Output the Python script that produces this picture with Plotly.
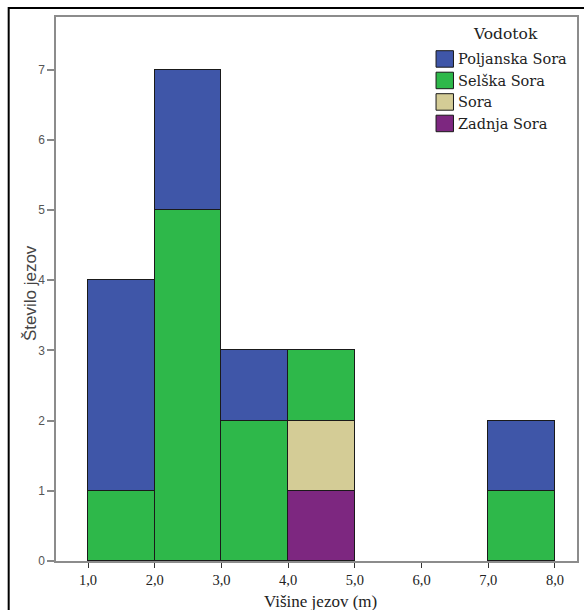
import plotly.graph_objects as go

# Histogram of weir heights, stacked by watercourse (bins of 1 m)
bin_starts = [1, 2, 3, 4, 7]
bin_width = 1

series_names = ["Zadnja Sora", "Sora", "Selška Sora", "Poljanska Sora"]
series_colors = ["#7D2780", "#D4CC96", "#2EB84A", "#3F56A8"]
zadnja_sora = [0, 0, 0, 1, 0]
sora = [0, 0, 0, 1, 0]
selska_sora = [1, 5, 2, 1, 1]
poljanska_sora = [3, 2, 1, 0, 1]
series_values = [zadnja_sora, sora, selska_sora, poljanska_sora]

x_tick_vals = [1, 2, 3, 4, 5, 6, 7, 8]
x_tick_text = ["1,0", "2,0", "3,0", "4,0", "5,0", "6,0", "7,0", "8,0"]
y_tick_vals = [0, 1, 2, 3, 4, 5, 6, 7]

legend_title = "Vodotok"
x_title = "Višine jezov (m)"
y_title = "Število jezov"

W, H = 584, 610
ML, MR, MT, MB = 56, 5, 17, 49
PW, PH = W - ML - MR, H - MT - MB


def px(x):
    return (x - ML) / PW


def py(y):
    return (H - MB - y) / PH


SERIF = "DejaVu Serif, Liberation Serif, serif"
TIMES = "Liberation Serif, Times New Roman, serif"
SANS = "Liberation Sans, Arial, sans-serif"

fig = go.Figure()
centers = [b + bin_width / 2 for b in bin_starts]
for name, color, vals in zip(series_names, series_colors, series_values):
    fig.add_trace(go.Bar(
        x=centers, y=vals, width=bin_width, name=name,
        marker=dict(color=color, line=dict(color="#1a1a1a", width=1)),
        showlegend=False,
    ))

fig.update_layout(
    width=W, height=H,
    margin=dict(l=ML, r=MR, t=MT, b=MB),
    barmode="stack", bargap=0,
    plot_bgcolor="white", paper_bgcolor="white",
    xaxis=dict(
        range=[0.52, 8.33], tickvals=x_tick_vals, ticktext=x_tick_text,
        ticks="outside", ticklen=5, tickcolor="#333", tickwidth=1,
        tickfont=dict(family=TIMES, size=14.5, color="#222"),
        showline=True, linecolor="#8c8c8c", linewidth=1.5, mirror=True,
        showgrid=False, zeroline=False,
    ),
    yaxis=dict(
        range=[0, 7.75], tickvals=y_tick_vals,
        ticks="outside", ticklen=7, tickcolor="#888", tickwidth=1.5,
        tickfont=dict(family=SANS, size=12, color="#555"),
        showline=True, linecolor="#8c8c8c", linewidth=1.5, mirror=True,
        showgrid=False, zeroline=False,
    ),
)

shapes = [
    # outer frame
    dict(type="rect", xref="paper", yref="paper",
         x0=px(8.5), x1=px(620), y0=py(640), y1=py(8),
         line=dict(color="black", width=2), fillcolor="rgba(0,0,0,0)", layer="above"),
]
annotations = [
    dict(text=x_title, xref="paper", yref="paper", x=px(322), y=py(601),
         showarrow=False, xanchor="center", yanchor="middle",
         font=dict(family=TIMES, size=17, color="#222")),
    dict(text=y_title, xref="paper", yref="paper", x=px(30), y=py(293),
         showarrow=False, xanchor="center", yanchor="middle", textangle=-90,
         font=dict(family=SANS, size=17, color="#444")),
    dict(text=legend_title, xref="paper", yref="paper", x=px(507), y=py(34),
         showarrow=False, xanchor="center", yanchor="middle",
         font=dict(family=SERIF, size=15.5, color="#222")),
]

# legend, top entry = top of stack
row_top, row_step, sw = 50.7, 21.5, 17.5
for i, (name, color) in enumerate(zip(series_names[::-1], series_colors[::-1])):
    top = row_top + i * row_step
    shapes.append(dict(type="rect", xref="paper", yref="paper",
                       x0=px(437.5), x1=px(437.5 + sw), y0=py(top + 16.5), y1=py(top),
                       fillcolor=color, line=dict(color="#1a1a1a", width=1)))
    annotations.append(dict(text=name, xref="paper", yref="paper",
                            x=px(458), y=py(top + 8.5), showarrow=False,
                            xanchor="left", yanchor="middle",
                            font=dict(family=SERIF, size=14.5, color="#222")))

fig.update_layout(shapes=shapes, annotations=annotations)
fig.write_html("out.html")
